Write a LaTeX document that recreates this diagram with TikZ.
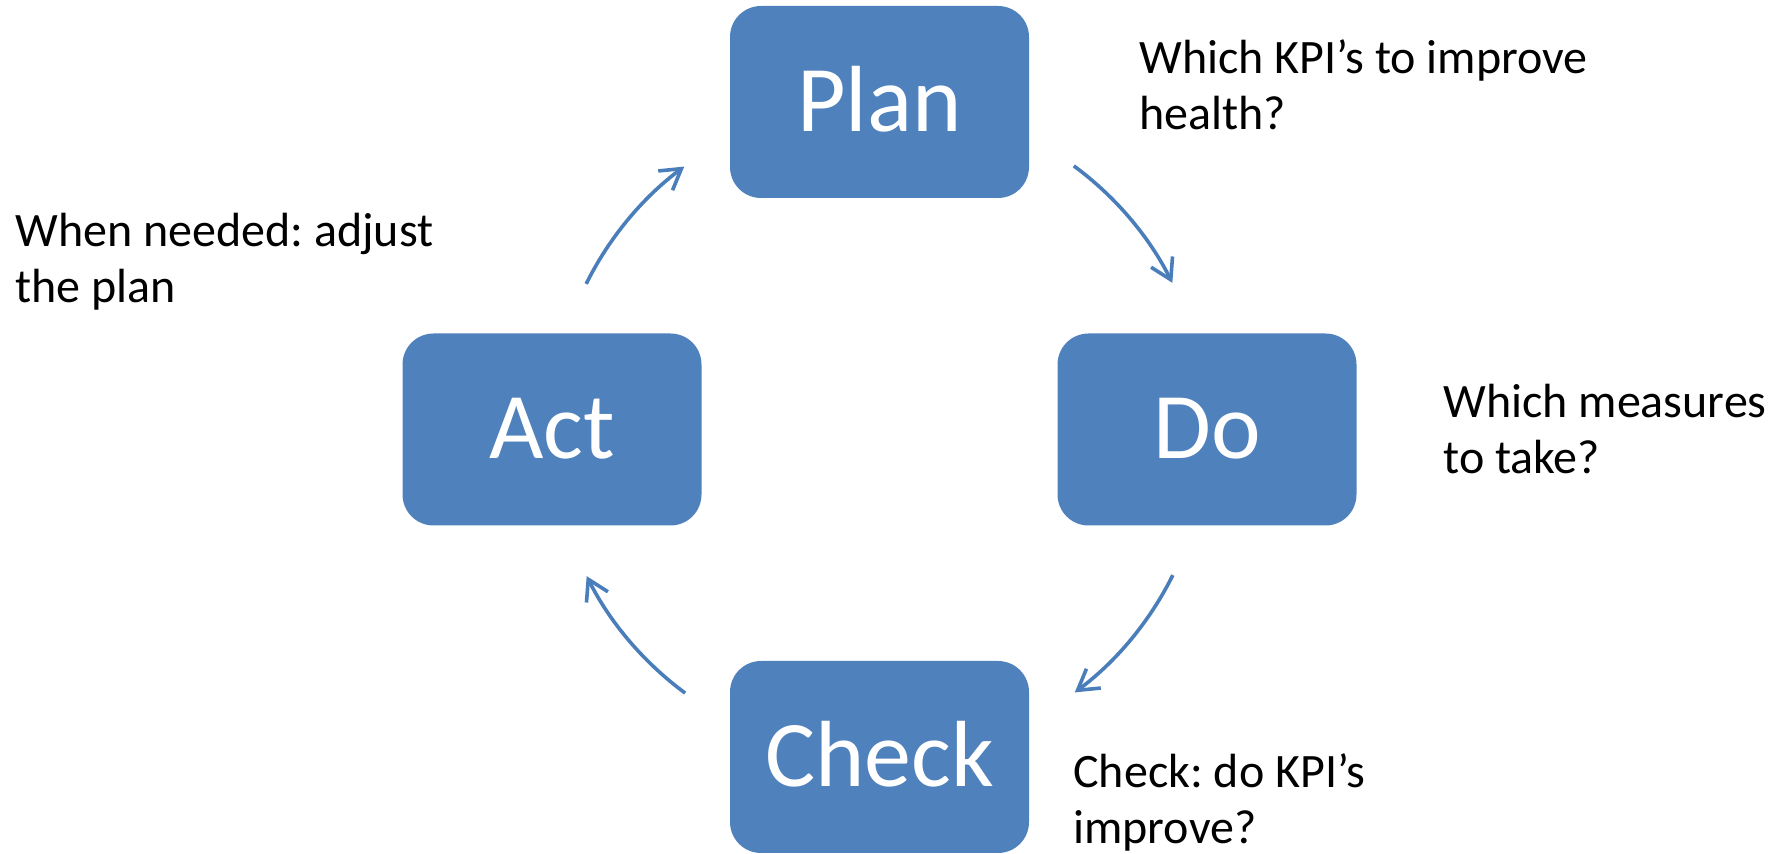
\documentclass[tikz,border=0pt]{standalone}
\usepackage{fontspec}
\setmainfont{Carlito}
\usetikzlibrary{arrows.meta,calc}
\definecolor{boxblue}{HTML}{4F81BD}
\definecolor{arrblue}{HTML}{4A7EBB}
\begin{document}
\frenchspacing
\begin{tikzpicture}[x=0.5pt,y=0.5pt,
  pdcabox/.style={fill=boxblue, draw=none, rounded corners=15.5pt,
    minimum width=149.5pt, minimum height=96pt, inner sep=0pt,
    text=white, font=\fontsize{47}{56}\selectfont,
    text height=29.5pt, text depth=0pt},
  note/.style={anchor=base west, inner sep=0pt, align=left,
    font=\fontsize{24}{28}\selectfont},
  cyc/.style={draw=arrblue, line width=1.8pt,
    -{Straight Barb[length=10pt,width=12pt]}}]
\useasboundingbox (0,0) rectangle (1779,-854);

\node[pdcabox] (plan)  at (879.5,-102)   {Plan};
\node[pdcabox] (do)    at (1207,-429.5)  {Do};
\node[pdcabox] (check) at (879.5,-757)   {Check};
\node[pdcabox] (act)   at (552,-429.5)   {Act};

% anchor is the baseline of the last line
\node[note] (plannote)  at (1139,-130) {Which KPI’s to improve\\health?};
\node[note] (donote)    at (1443,-474) {Which measures\\to take?};
\node[note] (checknote) at (1073,-844) {Check: do KPI’s\\improve?};
\node[note] (actnote)   at (15,-303)   {When needed: adjust\\the plan};

\coordinate (ctr) at (879.5,-429.5);
\coordinate (s1) at ($(ctr)+(153.6:327.5)$);
\coordinate (s2) at ($(ctr)+(53.6:327.5)$);
\coordinate (s3) at ($(ctr)+(-26.4:327.5)$);
\coordinate (s4) at ($(ctr)+(-126.4:327.5)$);

\draw[cyc] (s1) arc[start angle=153.6, end angle=126.6, radius=327.5];
\draw[cyc] (s2) arc[start angle=53.6, end angle=26.6, radius=327.5];
\draw[cyc] (s3) arc[start angle=-26.4, end angle=-53.4, radius=327.5];
\draw[cyc] (s4) arc[start angle=-126.4, end angle=-153.4, radius=327.5];
\end{tikzpicture}
\end{document}
